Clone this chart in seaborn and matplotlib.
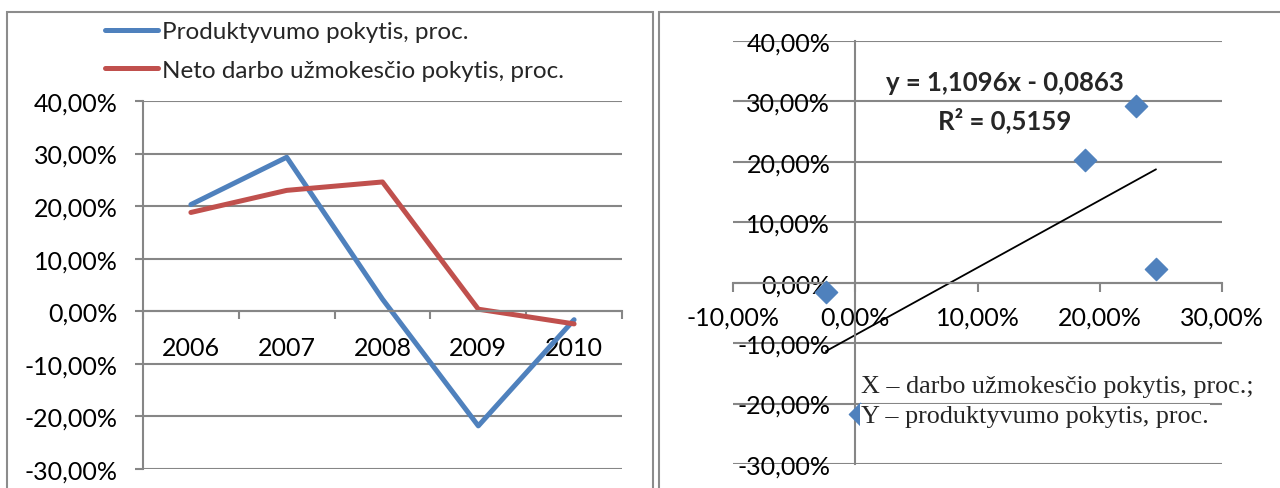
import numpy as np
import pandas as pd
import matplotlib
matplotlib.use("Agg")
import matplotlib.pyplot as plt
import matplotlib.ticker as mticker
from matplotlib.patches import Rectangle
from matplotlib.lines import Line2D
import seaborn as sns

# data
years = ["2006", "2007", "2008", "2009", "2010"]
productivity = [0.203, 0.293, 0.023, -0.218, -0.016]   # Produktyvumo pokytis
wage = [0.188, 0.230, 0.246, 0.004, -0.024]            # Neto darbo užmokesčio pokytis
y_ticks = [-0.3, -0.2, -0.1, 0.0, 0.1, 0.2, 0.3, 0.4]
x_ticks_scatter = [-0.1, 0.0, 0.1, 0.2, 0.3]
label_prod = "Produktyvumo pokytis, proc."
label_wage = "Neto darbo užmokesčio pokytis, proc."
eq_text = "y = 1,1096x - 0,0863"
r2_text = "R² = 0,5159"
note_x = "X – darbo užmokesčio pokytis, proc.;"
note_y = "Y – produktyvumo pokytis, proc."

sns.set_theme(style="white")
plt.rcParams['font.family'] = ['Lato', 'DejaVu Sans']

BLUE = "#4F81BD"
RED = "#C0504D"
GRID = "#868686"
FS = 18

W, H = 1280, 489
fig = plt.figure(figsize=(W / 100, H / 100), dpi=100)


def px_axes(x0, y0, x1, y1):
    # pixel box (top-left origin) -> figure axes
    return fig.add_axes([x0 / W, 1 - y1 / H, (x1 - x0) / W, (y1 - y0) / H])


def pct(v, pos=None):
    return f"{v * 100:.2f}%".replace(".", ",")


# panel borders
fig.patches.append(Rectangle((7 / W, -0.1), (653 - 7) / W, 1 - 13 / H + 0.1,
                             transform=fig.transFigure, fill=False,
                             edgecolor="#8c8c8c", linewidth=1.5))
fig.patches.append(Rectangle((659 / W, -0.1), 0.5, 1 - 13 / H + 0.1,
                             transform=fig.transFigure, fill=False,
                             edgecolor="#8c8c8c", linewidth=1.5))

# ---- left: line chart ----
ax1 = px_axes(143, 102, 622, 470)
df = pd.DataFrame({"pos": np.arange(len(years)), "prod": productivity, "wage": wage})
sns.lineplot(data=df, x="pos", y="prod", ax=ax1, color=BLUE, linewidth=3.6,
             solid_capstyle="round", legend=False)
sns.lineplot(data=df, x="pos", y="wage", ax=ax1, color=RED, linewidth=3.6,
             solid_capstyle="round", legend=False)
ax1.set_xlim(-0.5, len(years) - 0.5)
ax1.set_ylim(-0.3, 0.4)
ax1.set_yticks(y_ticks)
ax1.yaxis.set_major_formatter(mticker.FuncFormatter(pct))
ax1.set_xticks(np.arange(len(years)))
ax1.set_xticklabels(years)
ax1.set_xticks(np.arange(len(years) + 1) - 0.5, minor=True)
ax1.set_xlabel("")
ax1.set_ylabel("")
ax1.grid(axis="y", color=GRID, linewidth=1.5)
ax1.set_axisbelow(True)
for s in ["top", "right"]:
    ax1.spines[s].set_visible(False)
ax1.spines["left"].set_color(GRID)
ax1.spines["left"].set_linewidth(1.5)
ax1.spines["bottom"].set_position(("data", 0))
ax1.spines["bottom"].set_color(GRID)
ax1.spines["bottom"].set_linewidth(1.5)
ax1.tick_params(axis="y", left=True, length=6, width=1.5, color=GRID,
                labelsize=FS, pad=12, labelcolor="black")
ax1.tick_params(axis="x", which="major", bottom=False, length=0,
                labelsize=FS, pad=18, labelcolor="black")
ax1.tick_params(axis="x", which="minor", bottom=True, length=6, width=1.5,
                color=GRID, direction="out")

handles = [Line2D([], [], color=BLUE, linewidth=3.6, solid_capstyle="round"),
           Line2D([], [], color=RED, linewidth=3.6, solid_capstyle="round")]
fig.legend(handles, [label_prod, label_wage], loc="center left",
           bbox_to_anchor=(105 / W, 1 - 52 / H), frameon=False, fontsize=17.5,
           handlelength=2.2, handletextpad=0.15, labelspacing=0.72,
           borderpad=0, borderaxespad=0)

# ---- right: scatter with trend ----
ax2 = px_axes(733, 42, 1222, 465)
sc = pd.DataFrame({"x": wage, "y": productivity})
sns.regplot(data=sc, x="x", y="y", ax=ax2, ci=None, truncate=True,
            scatter=False, line_kws={"color": "black", "linewidth": 1.3})
sns.scatterplot(data=sc, x="x", y="y", ax=ax2, marker="D", s=130,
                color=BLUE, edgecolor=BLUE, zorder=3, clip_on=False)
ax2.set_xlim(-0.1, 0.3)
ax2.set_ylim(-0.3, 0.4)
ax2.set_xticks(x_ticks_scatter)
ax2.set_yticks(y_ticks)
ax2.xaxis.set_major_formatter(mticker.FuncFormatter(pct))
ax2.yaxis.set_major_formatter(mticker.FuncFormatter(pct))
ax2.set_xlabel("")
ax2.set_ylabel("")
ax2.grid(axis="y", color=GRID, linewidth=1.5)
ax2.set_axisbelow(True)
for s in ["top", "right"]:
    ax2.spines[s].set_visible(False)
ax2.spines["left"].set_position(("data", 0))
ax2.spines["bottom"].set_position(("data", 0))
for s in ["left", "bottom"]:
    ax2.spines[s].set_color(GRID)
    ax2.spines[s].set_linewidth(1.5)
ax2.tick_params(axis="y", left=False, length=0, labelsize=FS, pad=18,
                labelcolor="black")
ax2.tick_params(axis="x", bottom=True, length=6.5, width=1.5, color=GRID,
                direction="out", labelsize=FS, pad=10, labelcolor="black")

ax2.text(0.1226, 0.332, eq_text, ha="center", va="center", fontsize=18.5,
         fontweight="bold")
ax2.text(0.1226, 0.271, r2_text, ha="center", va="center", fontsize=18.5,
         fontweight="bold")
serif = ["Liberation Serif", "DejaVu Serif"]
ax2.text(0.005, -0.171, note_x, ha="left", va="center", fontsize=18.8,
         family=serif, zorder=5,
         bbox=dict(facecolor="white", edgecolor="none", pad=1))
ax2.text(0.005, -0.221, note_y, ha="left", va="center", fontsize=18.8,
         family=serif, zorder=5,
         bbox=dict(facecolor="white", edgecolor="none", pad=1))

fig.savefig("out.png", dpi=100)
